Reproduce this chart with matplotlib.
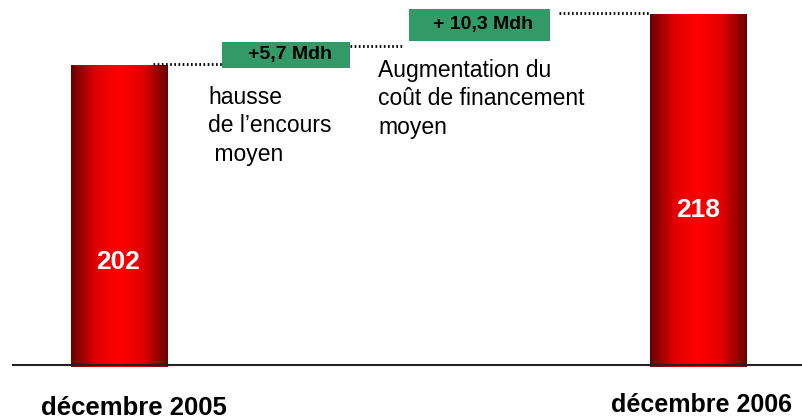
import numpy as np
import matplotlib.pyplot as plt
from matplotlib.colors import LinearSegmentedColormap
from matplotlib.patches import Rectangle

plt.rcParams['font.family'] = ['Liberation Sans', 'DejaVu Sans']

# data
periods = ["décembre 2005", "décembre 2006"]
totals = [202, 218]
steps = [5.7, 10.3]
step_labels = ["+5,7 Mdh", "+ 10,3 Mdh"]
step_notes = ["hausse\nde l\u2019encours\n moyen", "Augmentation du\nco\u00fbt de financement\nmoyen"]

W, H = 803, 419
fig = plt.figure(figsize=(W / 100, H / 100), dpi=100)
ax = fig.add_axes([0, 0, 1, 1])
XLIM = (-0.2055, 1.181)
YLIM = (90.3, 221.8)
ax.axis('off')


def px(x, y):
    return x / W, 1 - y / H


# red gradient bars
cmap = LinearSegmentedColormap.from_list('bar', ['#680000', '#e00000', '#ff0000', '#e00000', '#680000'])
grad = np.linspace(0, 1, 256).reshape(1, -1)
xs = [0, 1]
bw = 0.166
base = 107.25
bars = ax.bar(xs, [t - base for t in totals], width=bw, bottom=base - 0.6, color='none', zorder=2)
for b in bars:
    x0, y0 = b.get_x(), b.get_y()
    im = ax.imshow(grad, cmap=cmap, aspect='auto', zorder=2,
                   extent=[x0, x0 + b.get_width(), y0, y0 + b.get_height() + 0.6])
    im.set_clip_path(b)
ax.set_xlim(*XLIM)
ax.set_ylim(*YLIM)

# values inside bars
label_pos = [(118, 262), (698, 210)]
for (lx, ly), t in zip(label_pos, totals):
    fig.text(*px(lx, ly), str(t), color='white', fontsize=19, fontweight='bold',
             ha='center', va='center', zorder=3)

# baseline
ax.plot([-0.183, 1.181], [base, base], color='#222222', lw=1.5, zorder=4)

# dotted connectors
cum = [totals[0], totals[0] + steps[0], totals[0] + steps[0] + steps[1]]
seg = [(0.059, 0.187), (0.399, 0.489), (0.760, 0.915)]
for (a, b), v in zip(seg, cum):
    ax.plot([a, b], [v - 0.3, v - 0.3], color='black', lw=2, linestyle=(0, (0.6, 0.9)), zorder=3)

# green boxes
boxes = [(222, 42, 128, 26), (409, 9, 141, 32)]
for (bx, by, bwid, bh), lab in zip(boxes, step_labels):
    fx, fy = px(bx, by + bh)
    fig.patches.append(Rectangle((fx, fy), bwid / W, bh / H, transform=fig.transFigure,
                                 facecolor='#339966', edgecolor='none', zorder=5))
    cx, cy = px(bx + bwid / 2 + 4, by + bh / 2)
    fig.text(cx, cy, lab, fontsize=14, fontweight='bold', ha='center', va='center', zorder=6)

# notes
fig.text(*px(208, 86), step_notes[0], fontsize=16.5, ha='left', va='top', linespacing=1.3)
fig.text(*px(378, 59), step_notes[1], fontsize=16.5, ha='left', va='top', linespacing=1.3)

# period labels
fig.text(*px(134, 408), periods[0], fontsize=18.5, fontweight='bold', ha='center', va='center')
fig.text(*px(702, 405), periods[1], fontsize=18, fontweight='bold', ha='center', va='center')

fig.savefig('out.png', dpi=100)
